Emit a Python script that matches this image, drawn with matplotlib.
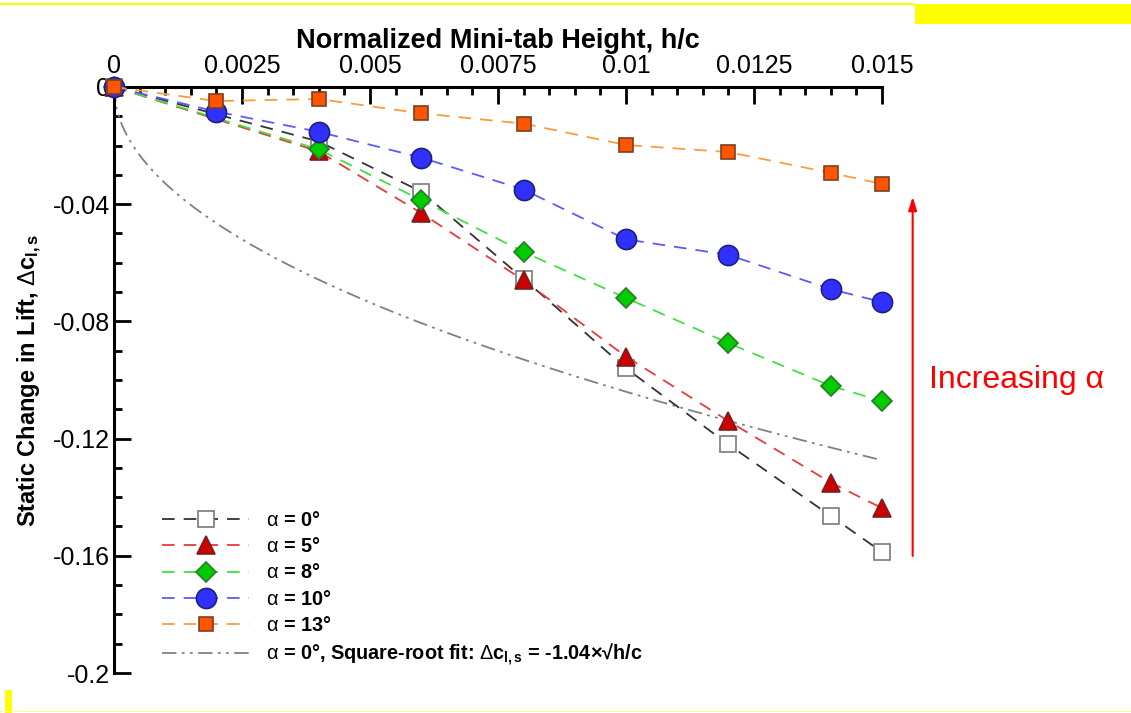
import numpy as np
import matplotlib
matplotlib.use('Agg')
import matplotlib.pyplot as plt
from matplotlib.patches import Rectangle

plt.rcParams['font.family'] = ['Liberation Sans', 'DejaVu Sans']
plt.rcParams['mathtext.fontset'] = 'custom'
plt.rcParams['mathtext.rm'] = 'Liberation Sans'
plt.rcParams['mathtext.bf'] = 'Liberation Sans:bold'
plt.rcParams['mathtext.it'] = 'Liberation Sans:italic'
plt.rcParams['mathtext.default'] = 'bf'

# mini-tab height (h/c)
hc = [0, 0.002, 0.004, 0.006, 0.008, 0.01, 0.012, 0.014, 0.015]

# static change in lift, per angle of attack (None = not measured)
dcl_a0 = [0, None, -0.0186, -0.0357, -0.0655, -0.0960, -0.1220, -0.1464, -0.1587]
dcl_a5 = [0, None, -0.0220, -0.0430, -0.0660, -0.0920, -0.1140, -0.1350, -0.1437]
dcl_a8 = [0, None, -0.0213, -0.0386, -0.0563, -0.0720, -0.0874, -0.1020, -0.1072]
dcl_a10 = [0, -0.0084, -0.0153, -0.0241, -0.0350, -0.0520, -0.0573, -0.0690, -0.0734]
dcl_a13 = [0, -0.0048, -0.0041, -0.0090, -0.0125, -0.0198, -0.0222, -0.0293, -0.0331]

# square-root fit for alpha = 0, as written in the legend
fit_coef = -1.04
fit_hc = np.linspace(0, 0.015, 300)

series = [
	(dcl_a0, r'$\mathrm{\alpha}$ = 0°', 's', 'white', '#7a7a7a', '#333333', 11),
	(dcl_a5, r'$\mathrm{\alpha}$ = 5°', '^', '#cc0000', '#7a2020', '#e83a3a', 12.5),
	(dcl_a8, r'$\mathrm{\alpha}$ = 8°', 'D', '#00cc00', '#2a7a2a', '#40e040', 10.5),
	(dcl_a10, r'$\mathrm{\alpha}$ = 10°', 'o', '#3030ff', '#20207a', '#5a5aff', 14.5),
	(dcl_a13, r'$\mathrm{\alpha}$ = 13°', 's', '#ff5500', '#7a4020', '#ff9a3a', 10),
]

fig = plt.figure(figsize=(11.31, 7.13), dpi=100)
ax = fig.add_axes([0.1008, 0.0561, 0.6790, 0.8219])

for vals, lab, mk, fc, ec, lc, ms in series:
	xs = [x for x, v in zip(hc, vals) if v is not None]
	ys = [v for v in vals if v is not None]
	ax.plot(xs, ys, linestyle=(0, (7, 5)), color=lc, lw=1.3, marker=mk, ms=ms,
			markerfacecolor=fc, markeredgecolor=ec, markeredgewidth=1.2,
			label=lab, zorder=3, clip_on=False)

ax.plot(fit_hc, fit_coef * np.sqrt(fit_hc), color='#808080', lw=1.3,
		linestyle=(0, (8, 3, 1.5, 3, 1.5, 3)), zorder=2,
		label=r'$\mathrm{\alpha}$ = 0°, Square-root fit: $\mathrm{\Delta}$c$_{l,s}$ = -1.04×√h/c')

ax.set_xlim(0, 0.015)
ax.set_ylim(-0.2, 0)
ax.set_xticks([0, 0.0025, 0.005, 0.0075, 0.01, 0.0125, 0.015])
ax.set_xticklabels(['0', '0.0025', '0.005', '0.0075', '0.01', '0.0125', '0.015'])
ax.set_yticks([0, -0.04, -0.08, -0.12, -0.16, -0.2])
ax.set_yticklabels(['0', '-0.04', '-0.08', '-0.12', '-0.16', '-0.2'])
ax.set_xticks(np.arange(0, 0.01501, 0.0005), minor=True)
ax.set_yticks(np.arange(-0.2, 0.0001, 0.01), minor=True)

ax.xaxis.tick_top()
ax.xaxis.set_label_position('top')
ax.tick_params(which='both', direction='in', width=2, labelsize=18, colors='black')
ax.tick_params(which='major', length=12)
ax.tick_params(which='minor', length=6)
ax.tick_params(axis='x', pad=6.5)
ax.tick_params(axis='y', pad=3)

ax.spines['right'].set_visible(False)
ax.spines['bottom'].set_visible(False)
ax.spines['top'].set_linewidth(2.2)
ax.spines['left'].set_linewidth(2.2)

ax.set_xlabel('Normalized Mini-tab Height, h/c', fontsize=19.5, fontweight='bold', labelpad=4)
ax.set_ylabel(r'Static Change in Lift, $\mathrm{\Delta}$c$_{l,s}$', fontsize=17, fontweight='bold', labelpad=6)

leg = ax.legend(loc='lower left', bbox_to_anchor=(0.047, -0.012), frameon=False,
				prop={'size': 14.3, 'weight': 'bold'}, handlelength=4.4,
				labelspacing=0.36, handletextpad=0.85, numpoints=1, borderaxespad=0.2)

# arrow and note on the right
ax.annotate('', xy=(0.0156, -0.0365), xytext=(0.0156, -0.161),
			arrowprops=dict(arrowstyle='-|>,head_length=0.8,head_width=0.25', color='red', lw=1.5),
			annotation_clip=False)
ax.text(0.01592, -0.1, 'Increasing α', color='red', fontsize=23, va='center', ha='left',
		clip_on=False)

# yellow slide marks around the figure
fig.patches.append(Rectangle((0, 1 - 5 / 713), 915 / 1131, 1.5 / 713, transform=fig.transFigure,
							 facecolor='#ffff00', edgecolor='none'))
fig.patches.append(Rectangle((915 / 1131, 1 - 24 / 713), 216 / 1131, 20 / 713, transform=fig.transFigure,
							 facecolor='#ffff00', edgecolor='none'))
fig.patches.append(Rectangle((5 / 1131, 0), 7 / 1131, 23 / 713, transform=fig.transFigure,
							 facecolor='#ffff00', edgecolor='none'))
fig.patches.append(Rectangle((0, 1 / 713), 1, 1.5 / 713, transform=fig.transFigure,
							 facecolor='#ffff80', edgecolor='none'))

fig.savefig('out.png', dpi=100)
